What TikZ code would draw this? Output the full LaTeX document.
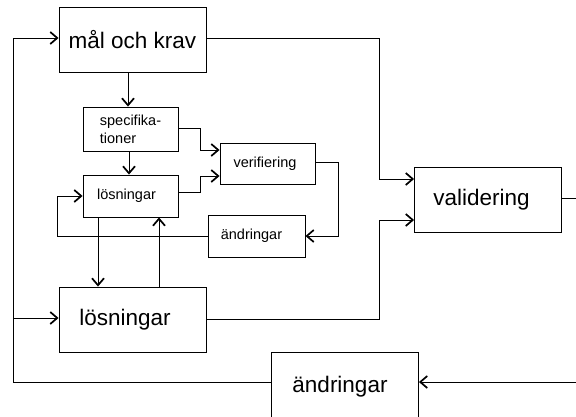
\documentclass[tikz,border=0pt]{standalone}
\usepackage{fontspec}
\setmainfont{Liberation Sans}
\usetikzlibrary{arrows.meta}
\begin{document}
\begin{tikzpicture}[x=1pt,y=-1pt,
  line width=0.9pt,
  big/.style={draw, rectangle, inner sep=0pt, minimum width=147pt, minimum height=65pt,
    font=\fontsize{22.5}{27}\selectfont},
  small/.style={draw, rectangle, inner sep=0pt, minimum width=95pt, minimum height=42pt,
    font=\fontsize{14.5}{18}\selectfont},
  arr/.style={-{Straight Barb[length=7pt,width=12pt,line width=1.7pt]}},
  conn/.style={line width=0.9pt}]
\useasboundingbox (0,0) rectangle (576,416);
\clip (0,0) rectangle (576,416);

% main blocks (the trailing kern sets the label a little left of centre)
\node[big] (mal)   at (132.5,39.5)  {mål och krav};
\node[big] (valid) at (488,199.5)  {validering\kern13pt};
\node[big] (losB)  at (132.5,319.5) {lösningar\kern15pt};
\node[big, minimum height=70pt] (andB) at (345,387) {ändringar\kern10pt};

% inner loop blocks
\node[small, minimum height=44pt, align=left] (spec) at (130.5,129) {specifika-\\tioner};
\node[small] (losS)  at (130.5,196)   {lösningar\kern8pt};
\node[small, minimum height=41pt] (verif) at (267.5,163.5) {verifiering\kern5pt};
\node[small, minimum width=97pt] (andS) at (256.5,236) {ändringar\kern10pt};

% free ends at the margins
\coordinate (outV) at (576,198);
\coordinate (inA)  at (576,382);
\coordinate (tapL) at (13,318);

% inner loop
\draw[arr] (mal.south -| 128,0) -- (spec.north -| 128,0);
\draw[arr] (spec.south -| 129,0) -- (losS.north -| 129,0);
\draw[arr] (spec.east |- 0,128) -- (200,128) |- ([yshift=13.5pt]verif.west);
\draw[arr] (losS.east |- 0,192) -- (200,192) |- ([yshift=-12.5pt]verif.west);
\draw[arr] (verif.east |- 0,162) -- (338,162) |- (andS.east);
\draw[arr] (andS.west) -- (57,236) |- (losS.west);
\draw[arr] (losS.south -| 98,0) -- (losB.north -| 98,0);
\draw[arr] (losB.north -| 159,0) -- (losS.south -| 159,0);

% outer loop
\draw[arr] (mal.east |- 0,38) -- (379,38) |- (valid.west |- 0,179);
\draw[arr] (losB.east) -- (379,319.5) |- (valid.west |- 0,220);
\draw[conn] (valid.east |- outV) -- (outV);
\draw[arr] (inA) -- (andB.east |- inA);
\draw[arr] (andB.west |- 0,382) -- (13,382) |- (mal.west |- 0,38);
\draw[arr] (tapL) -- (losB.west |- tapL);
\end{tikzpicture}
\end{document}
